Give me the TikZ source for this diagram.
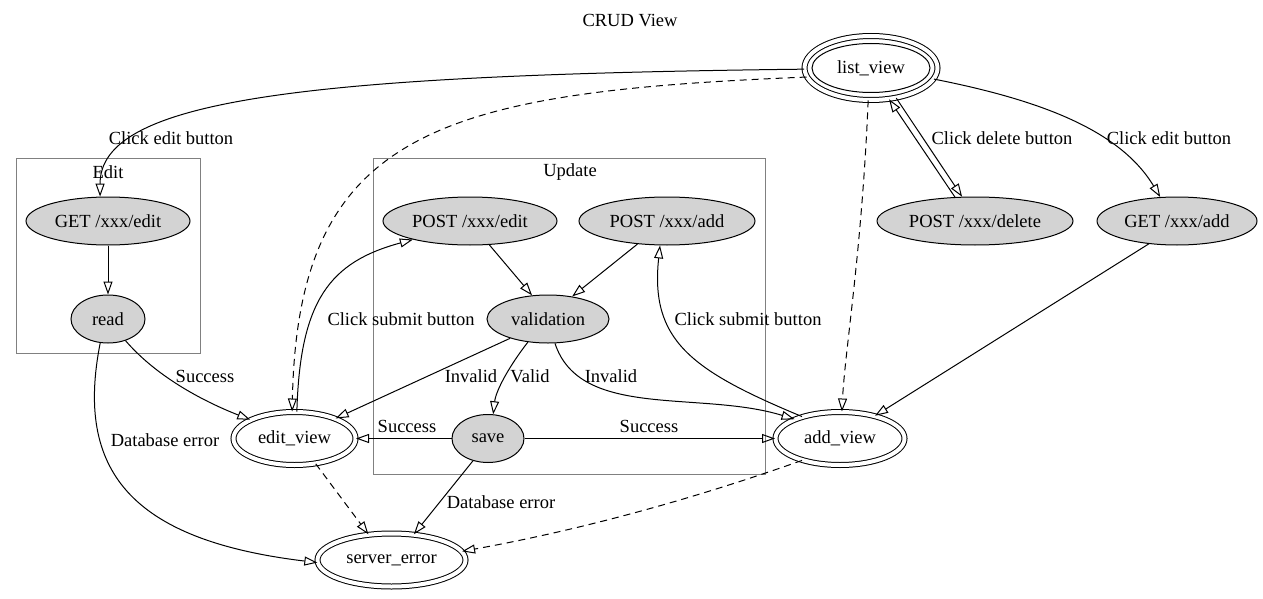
\documentclass[tikz,border=0pt]{standalone}
\usepackage{fontspec}
\setmainfont{Liberation Serif}
\usetikzlibrary{arrows.meta,shapes.geometric}
\definecolor{stategray}{HTML}{D3D3D3}
\tikzset{
  every node/.style={font=\fontsize{18.5}{22}\selectfont},
  state/.style={ellipse,draw,fill=stategray,inner sep=0pt,minimum height=48pt},
  view/.style={ellipse,draw,double,double distance=4pt,inner sep=0pt,minimum height=53pt},
  listview/.style={view,minimum width=133pt,minimum height=64pt},
  edge/.style={-{Triangle[open,length=13pt,width=9pt]},line width=1pt},
  dashedge/.style={edge,dash pattern=on 7pt off 5pt},
  cluster/.style={draw=gray,line width=1pt},
}

\begin{document}
\begin{tikzpicture}[x=1pt,y=-1pt,line width=1pt]
  \useasboundingbox (0,0) rectangle (1263,599);
  \node (title) at (630,21) {CRUD View};

  % clusters
  \draw[cluster] (16,158) rectangle (200,353);
  \node (editlbl) at (108,172) {Edit};
  \draw[cluster] (373,158) rectangle (765,474);
  \node (updatelbl) at (570,172) {Update};

  % states
  \node[listview] (list) at (871,68) {list\_view};
  \draw (list.center) ellipse [x radius=59pt,y radius=24.5pt];
  \node[state,minimum width=164pt] (getedit) at (108,221) {GET /xxx/edit};
  \node[state,minimum width=74pt] (read) at (108,319) {read};
  \node[state,minimum width=174pt] (postedit) at (470,221) {POST /xxx/edit};
  \node[state,minimum width=176pt] (postadd) at (667,221) {POST /xxx/add};
  \node[state,minimum width=196pt] (postdel) at (975,221) {POST /xxx/delete};
  \node[state,minimum width=160pt] (getadd) at (1177,221) {GET /xxx/add};
  \node[state,minimum width=122pt] (valid) at (548,319) {validation};
  \node[state,minimum width=72pt] (save) at (488,438.5) {save};
  \node[view,minimum width=122pt] (editv) at (294.5,438.5) {edit\_view};
  \node[view,minimum width=129pt] (addv) at (840,438.5) {add\_view};
  \node[view,minimum width=148pt] (serr) at (391.5,560) {server\_error};

  % edges from list_view
  \draw[edge] (list.181) .. controls (300,75) and (100,100) .. (getedit.108);
  \node (lclickedit) at (171,138) {Click edit button};
  \draw[dashedge] (list.188) .. controls (440,92) and (298,130) .. (editv.95);
  \draw[edge] (list.-50) -- (postdel.118);
  \draw[edge] (postdel.130) -- (list.-60);
  \node (lclickdel) at (1002,138) {Click delete button};
  \draw[edge] (list.-10) .. controls (1040,100) and (1120,130) .. (getadd.125);
  \node (lclickadd) at (1169,138) {Click edit button};
  \draw[dashedge] (list.-95) .. controls (862,250) and (845,350) .. (addv.86);

  % edit branch
  \draw[edge] (getedit) -- (read);
  \draw[edge] (read.-51) .. controls (155,375) and (200,400) .. (editv.157);
  \node (lsuccread) at (205,376) {Success};
  \draw[edge] (read.-108) .. controls (75,470) and (130,540) .. (serr.182);
  \node (ldberr1) at (165,440) {Database error};
  \draw[edge] (editv.85) .. controls (300,300) and (330,262) .. (postedit.198);
  \node (lsubmit1) at (401,319) {Click submit button};

  % update cluster
  \draw[edge] (postedit.-51) -- (valid.124);
  \draw[edge] (postadd.-142) -- (valid.43);
  \draw[edge] (valid.-153) -- (editv.26);
  \node (linvalid1) at (471,376) {Invalid};
  \draw[edge] (valid.-131) .. controls (510,365) and (496,390) .. (save.78);
  \node (lvalid) at (530,376) {Valid};
  \draw[edge] (valid.-74) .. controls (580,420) and (700,390) .. (addv.157);
  \node (linvalid2) at (611,376) {Invalid};
  \draw[edge] (addv.150) .. controls (690,370) and (650,340) .. (postadd.-106);
  \node (lsubmit2) at (748,319) {Click submit button};
  \draw[edge] (save.west) -- (editv.east);
  \node (lsucc1) at (407,426) {Success};
  \draw[edge] (save.east) -- (addv.west);
  \node (lsucc2) at (649,426) {Success};
  \draw[edge] (save.-124) -- (serr.49);
  \node (ldberr2) at (501,502) {Database error};

  % errors and add
  \draw[dashedge] (editv.-50) -- (serr.132);
  \draw[dashedge] (addv.-150) .. controls (690,500) and (580,530) .. (serr.7);
  \draw[edge] (getadd.-141) -- (addv.33);
\end{tikzpicture}
\end{document}
